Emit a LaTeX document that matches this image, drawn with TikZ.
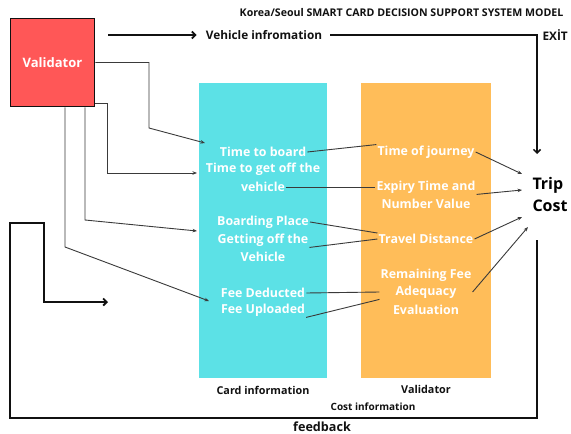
\documentclass[tikz,border=0pt]{standalone}
\usepackage{fontspec}
\setmainfont{Open Sans}
\usetikzlibrary{arrows.meta,positioning,calc}
\definecolor{ink}{HTML}{111111}
\definecolor{wirec}{HTML}{3A3A3A}
\definecolor{redc}{HTML}{FF5757}
\definecolor{cardc}{HTML}{5CE1E6}
\definecolor{valc}{HTML}{FFBD59}
\tikzset{txt/.style={font=\bfseries\fontsize{12.4}{14}\selectfont,text=white,inner sep=1pt},
  capt/.style={font=\bfseries\fontsize{10.8}{12}\selectfont,text=ink,inner sep=1pt},
  panel/.style={minimum height=295pt,inner sep=0pt},
  wire/.style={draw=wirec,line width=.9pt},
  flow/.style={draw=ink,line width=1.8pt},
  tip/.style={-{Stealth[length=4.5pt,width=3.5pt]}},
  barb/.style={-{Straight Barb[length=3.5pt,width=7pt]}}}

\begin{document}
\begin{tikzpicture}[x=1pt,y=-1pt]
\useasboundingbox (0,0) rectangle (571,434);
\node[panel,fill=cardc,minimum width=128pt] (card) at (263,230.5) {};
\node[panel,fill=valc,minimum width=130pt] (vbox) at (426,230.5) {};
\node[draw=ink,fill=redc,line width=1.5pt,minimum width=84pt,minimum height=88pt,font=\bfseries\fontsize{13}{15}\selectfont,text=white] (val) at (52.5,62.5) {Validator};
\foreach \t/\y [count=\i] in {Time to board/152,Time to get off the/169,vehicle/187,Boarding Place/222,Getting off the/240,Vehicle/257,Fee Deducted/293,Fee Uploaded/310}
  \node[txt] (c\i) at (263,\y) {\t};
\foreach \t/\y [count=\i] in {Time of journey/152,Expiry Time and/187,Number Value/204,Travel Distance/239,Remaining Fee/275,Adequacy/292,Evaluation/310}
  \node[txt] (v\i) at (426,\y) {\t};
\node[capt,font=\bfseries\fontsize{10.6}{12}\selectfont] (title) at (401.5,13) {Korea/Seoul SMART CARD DECISION SUPPORT SYSTEM MODEL};
\node[txt,text=ink,font=\bfseries\fontsize{11.8}{14}\selectfont] (vi) at (264,35) {Vehicle infromation};
\node[txt,text=ink,font=\bfseries\fontsize{11.8}{14}\selectfont,anchor=east] (exit) at (569,35) {EXİT};
\node[align=left,inner sep=0pt,font=\bfseries\fontsize{16}{22}\selectfont] (cost) at (550,194) {Trip\\Cost};
\node[capt] (ci) at (263,390) {Card information};
\node[capt] (vl) at (426,389) {Validator};
\node[capt,font=\bfseries\fontsize{10}{12}\selectfont] (co) at (373,407) {Cost information};
\node[capt,font=\bfseries\fontsize{12.6}{14}\selectfont] (fb) at (322,427) {feedback};
% free ends
\coordinate (a1) at (205,143); \coordinate (a2) at (197,173);
\coordinate (a3) at (197,231); \coordinate (a4) at (209,301);
\coordinate (t1) at (522,174); \coordinate (t2) at (522,190);
\coordinate (t3) at (522,217); \coordinate (t4) at (528,227);
\coordinate (go) at (108,35); \coordinate (down) at (537,154);
\coordinate (back) at (537,240); \coordinate (ret) at (108,302);
\draw[flow,barb,shorten >=8pt] (go) -- (vi.west);
\draw[flow,barb,shorten <=7pt,line width=1.5pt] (vi.east) -| (down);
\draw[flow,barb] (back) |- (10,418) |- (44,223) |- (ret);
\draw[wire,tip] (val.east) -| (149,128) -- (a1);
\draw[wire,tip] (val.east |- 0,103) -| (107,173) -- (a2);
\draw[wire,tip] (val.south -| 85,0) -- (85,220) -- (a3);
\draw[wire,tip] (val.south -| 65,0) -- (65,247) -- (a4);
\draw[wire] (c1.east) -- (v1.north west);
\draw[wire] (c3.east) -- (v2.west);
\draw[wire] (c4.east) -- (v4.north west);
\draw[wire] (c5.south east) -- (v4.west);
\draw[wire] (c7.east) -- (v5.west |- v6.west);
\draw[wire] (c8.south east) -- (v5.west |- v6.south);
\draw[wire,tip] (v1.east) -- (t1);
\draw[wire,tip] (v2.south east) -- (t2);
\draw[wire,tip] (v4.east) -- (t3);
\draw[wire,tip] (v6.east -| v5.east) -- (t4);
\end{tikzpicture}
\end{document}
